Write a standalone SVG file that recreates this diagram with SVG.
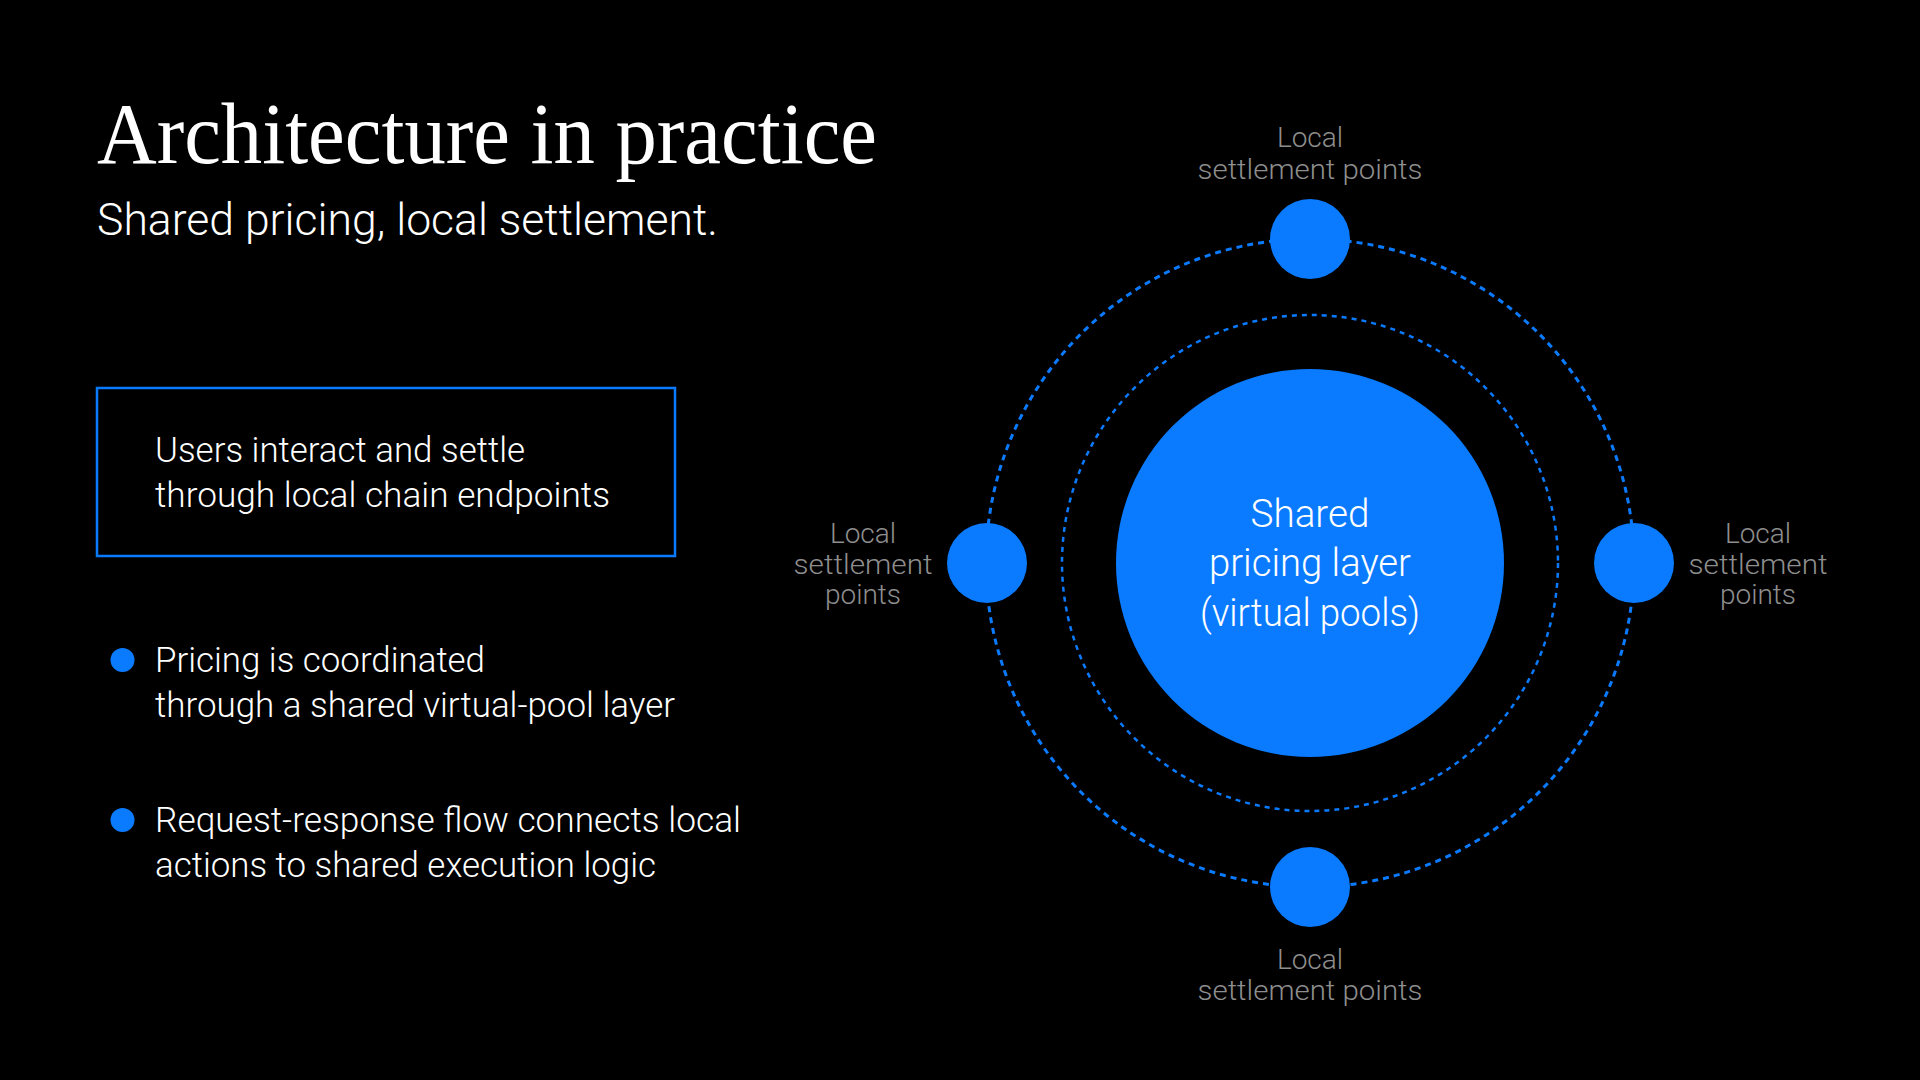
<svg xmlns="http://www.w3.org/2000/svg" width="1920" height="1080" viewBox="0 0 1920 1080">
  <style>
    .title { font-family: "Liberation Serif", "DejaVu Serif", serif; font-size: 86px; fill: #ffffff; }
    .sub { font-family: Roboto, "Liberation Sans", sans-serif; font-weight: 300; font-size: 45px; fill: #ffffff; }
    .body { font-family: Roboto, "Liberation Sans", sans-serif; font-weight: 300; font-size: 35px; fill: #ffffff; }
    .lbl { font-family: Roboto, "Liberation Sans", sans-serif; font-weight: 300; font-size: 28px; fill: #8e8e8e; text-anchor: middle; }
    .core { font-family: Roboto, "Liberation Sans", sans-serif; font-weight: 300; font-size: 38px; fill: #ffffff; text-anchor: middle; }
    .blue { fill: #0a7bff; }
    .ring-outer { fill: none; stroke: #0a7bff; stroke-width: 3; stroke-dasharray: 6 5; }
    .ring-inner { fill: none; stroke: #0a7bff; stroke-width: 2.5; stroke-dasharray: 5 5; }
  </style>
  <rect width="1920" height="1080" fill="#000000"/>

  <g id="heading">
    <text class="title" x="97" y="163" textLength="780" lengthAdjust="spacingAndGlyphs">Architecture in practice</text>
    <text class="sub" x="97" y="235" textLength="621" lengthAdjust="spacingAndGlyphs">Shared pricing, local settlement.</text>
  </g>

  <g id="callout-box">
    <rect x="97" y="388" width="578" height="168" fill="none" stroke="#0a7bff" stroke-width="2.5"/>
    <text class="body" x="155" y="462" textLength="370" lengthAdjust="spacingAndGlyphs">Users interact and settle</text>
    <text class="body" x="155" y="507" textLength="455" lengthAdjust="spacingAndGlyphs">through local chain endpoints</text>
  </g>

  <g id="bullet-1">
    <circle class="blue" cx="122.5" cy="660" r="12"/>
    <text class="body" x="155" y="672" textLength="330" lengthAdjust="spacingAndGlyphs">Pricing is coordinated</text>
    <text class="body" x="155" y="717" textLength="520" lengthAdjust="spacingAndGlyphs">through a shared virtual-pool layer</text>
  </g>

  <g id="bullet-2">
    <circle class="blue" cx="122.5" cy="820" r="12"/>
    <text class="body" x="155" y="832" textLength="586" lengthAdjust="spacingAndGlyphs">Request-response flow connects local</text>
    <text class="body" x="155" y="877" textLength="501" lengthAdjust="spacingAndGlyphs">actions to shared execution logic</text>
  </g>

  <g id="connectors">
    <circle class="ring-outer" cx="1310" cy="563" r="324"/>
    <circle class="ring-inner" cx="1310" cy="563" r="248"/>
  </g>

  <g id="shared-pricing-layer">
    <circle class="blue" cx="1310" cy="563" r="194"/>
    <text class="core" x="1310" y="527" textLength="119" lengthAdjust="spacingAndGlyphs">Shared</text>
    <text class="core" x="1310" y="576" textLength="202" lengthAdjust="spacingAndGlyphs">pricing layer</text>
    <text class="core" x="1310" y="626" textLength="220" lengthAdjust="spacingAndGlyphs">(virtual pools)</text>
  </g>

  <g id="settlement-top">
    <circle class="blue" cx="1310" cy="239" r="40"/>
    <text class="lbl" x="1310" y="147">Local</text>
    <text class="lbl" x="1310" y="179" textLength="225" lengthAdjust="spacingAndGlyphs">settlement points</text>
  </g>

  <g id="settlement-bottom">
    <circle class="blue" cx="1310" cy="887" r="40"/>
    <text class="lbl" x="1310" y="969">Local</text>
    <text class="lbl" x="1310" y="1000" textLength="225" lengthAdjust="spacingAndGlyphs">settlement points</text>
  </g>

  <g id="settlement-left">
    <circle class="blue" cx="987" cy="563" r="40"/>
    <text class="lbl" x="863" y="543">Local</text>
    <text class="lbl" x="863" y="574" textLength="139" lengthAdjust="spacingAndGlyphs">settlement</text>
    <text class="lbl" x="863" y="604">points</text>
  </g>

  <g id="settlement-right">
    <circle class="blue" cx="1634" cy="563" r="40"/>
    <text class="lbl" x="1758" y="543">Local</text>
    <text class="lbl" x="1758" y="574" textLength="139" lengthAdjust="spacingAndGlyphs">settlement</text>
    <text class="lbl" x="1758" y="604">points</text>
  </g>
</svg>
